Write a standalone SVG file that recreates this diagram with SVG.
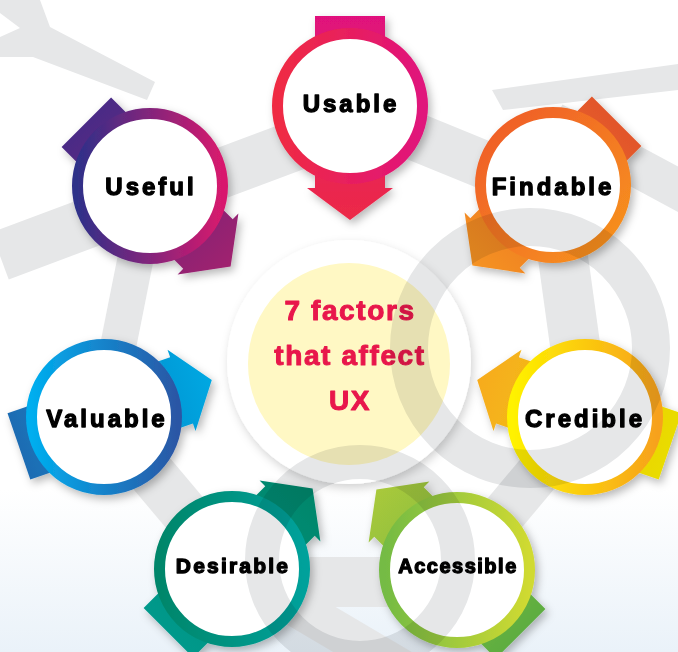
<svg xmlns="http://www.w3.org/2000/svg" width="678" height="652" viewBox="0 0 678 652">
<defs>
<linearGradient id="bg" x1="0" y1="0" x2="0" y2="1"><stop offset="0.75" stop-color="#ffffff"/><stop offset="1" stop-color="#eaf2f9"/></linearGradient>
<filter id="sh" x="-40%" y="-40%" width="180%" height="180%"><feDropShadow dx="3" dy="4" stdDeviation="4" flood-color="#000" flood-opacity="0.28"/></filter>
<filter id="shc" x="-30%" y="-30%" width="160%" height="160%"><feDropShadow dx="2" dy="4" stdDeviation="5" flood-color="#000" flood-opacity="0.18"/></filter>
<linearGradient id="aUsable" x1="0" x2="1"><stop offset="0" stop-color="#e0117c"/><stop offset="1" stop-color="#ec2a47"/></linearGradient>
<linearGradient id="rUsable" x1="0" x2="1"><stop offset="0" stop-color="#ef2b43"/><stop offset="1" stop-color="#e0137c"/></linearGradient>
<linearGradient id="aUseful" x1="0" x2="1"><stop offset="0" stop-color="#4a2b86"/><stop offset="1" stop-color="#a1206e"/></linearGradient>
<linearGradient id="rUseful" x1="0" x2="1"><stop offset="0" stop-color="#2f3089"/><stop offset="1" stop-color="#d8196d"/></linearGradient>
<linearGradient id="aFindable" x1="0" x2="1"><stop offset="0" stop-color="#e2552a"/><stop offset="1" stop-color="#f59321"/></linearGradient>
<linearGradient id="rFindable" x1="0" y1="0" x2="1" y2="1"><stop offset="0" stop-color="#ef5a29"/><stop offset="1" stop-color="#f7941d"/></linearGradient>
<linearGradient id="aValuable" x1="0" x2="1"><stop offset="0" stop-color="#1f6cb3"/><stop offset="1" stop-color="#00a8e2"/></linearGradient>
<linearGradient id="rValuable" x1="0" x2="1"><stop offset="0" stop-color="#00aeef"/><stop offset="1" stop-color="#2b57a5"/></linearGradient>
<linearGradient id="aCredible" x1="0" x2="1"><stop offset="0" stop-color="#e9dc00"/><stop offset="1" stop-color="#f7ab1f"/></linearGradient>
<linearGradient id="rCredible" x1="0" x2="1"><stop offset="0" stop-color="#fff200"/><stop offset="1" stop-color="#f7a11c"/></linearGradient>
<linearGradient id="aDesirable" x1="0" x2="1"><stop offset="0" stop-color="#00998b"/><stop offset="1" stop-color="#00866a"/></linearGradient>
<linearGradient id="rDesirable" x1="0" x2="1"><stop offset="0" stop-color="#00866a"/><stop offset="1" stop-color="#00a19b"/></linearGradient>
<linearGradient id="aAccessible" x1="0" x2="1"><stop offset="0" stop-color="#5dad40"/><stop offset="1" stop-color="#a9c93b"/></linearGradient>
<linearGradient id="rAccessible" x1="0" x2="1"><stop offset="0" stop-color="#74bb44"/><stop offset="1" stop-color="#d0da32"/></linearGradient>
<polygon id="arrow" points="-90,-35 82,-35 82,-43 114,0 82,43 82,35 -90,35"/>
</defs>
<style>
.band{fill:none;stroke:#e6e7e8;stroke-linecap:butt}
.bandp{fill:#e6e7e8}
.over{fill:none;stroke:#e6e7e8;mix-blend-mode:multiply}
.ring{stroke-width:11;fill:#fff}
.lbl{font-family:"Liberation Sans",Arial,sans-serif;font-weight:700;font-size:24px;letter-spacing:3px;text-anchor:middle;fill:#000;stroke:#000;stroke-width:1.3;stroke-linejoin:round}
.ctr{font-family:"Liberation Sans",Arial,sans-serif;font-weight:700;font-size:28px;letter-spacing:1.6px;text-anchor:middle;fill:#e8174b;stroke:#e8174b;stroke-width:1;stroke-linejoin:round}
</style>
<rect width="678" height="652" fill="url(#bg)"/>
<g id="connectors">
<polygon class="bandp" points="0,0 40,0 50,27 155,82 147,100 33,57 0,57 0,37 20,28 0,13"/>
<line class="band" x1="0" y1="256" x2="350" y2="125" stroke-width="50"/>
<line class="band" x1="350" y1="110" x2="553" y2="193" stroke-width="48"/>
<line class="band" x1="553" y1="122" x2="700" y2="201" stroke-width="40"/>
<polygon class="bandp" points="492,90 678,64 678,90 503,110"/>
<line class="band" x1="553" y1="185" x2="585" y2="417" stroke-width="50"/>
<line class="band" x1="585" y1="417" x2="457" y2="570" stroke-width="45"/>
<line class="band" x1="232" y1="582" x2="457" y2="582" stroke-width="50"/>
<line class="band" x1="232" y1="569" x2="430" y2="686" stroke-width="40"/>
<line class="band" x1="104" y1="417" x2="232" y2="569" stroke-width="48"/>
<line class="band" x1="150" y1="186" x2="104" y2="417" stroke-width="36"/>
</g>
<g id="center">
<circle cx="349" cy="362" r="122" fill="#fff" filter="url(#shc)"/>
<circle cx="349" cy="364" r="101" fill="#fff8c4"/>
<text class="ctr" x="350" y="320">7 factors</text>
<text class="ctr" x="350" y="365">that affect</text>
<text class="ctr" x="350" y="410">UX</text>
</g>
<g id="usable" transform="translate(350,106)">
<g filter="url(#sh)"><use href="#arrow" fill="url(#aUsable)" transform="rotate(90)"/><circle class="ring" r="72.5" stroke="url(#rUsable)"/></g>
<text class="lbl" x="1" y="6">Usable</text>
</g>
<g id="useful" transform="translate(150,186)">
<g filter="url(#sh)"><use href="#arrow" fill="url(#aUseful)" transform="rotate(45)"/><circle class="ring" r="72.5" stroke="url(#rUseful)"/></g>
<text class="lbl" x="1" y="9">Useful</text>
</g>
<g id="findable" transform="translate(553,185)">
<g filter="url(#sh)"><use href="#arrow" fill="url(#aFindable)" transform="rotate(135)"/><circle class="ring" r="72.5" stroke="url(#rFindable)"/></g>
<text class="lbl" x="0" y="10">Findable</text>
</g>
<g id="valuable" transform="translate(104,417)">
<g filter="url(#sh)"><use href="#arrow" fill="url(#aValuable)" transform="rotate(-19)"/><circle class="ring" r="72.5" stroke="url(#rValuable)"/></g>
<text class="lbl" x="3" y="10">Valuable</text>
</g>
<g id="credible" transform="translate(585,417)">
<g filter="url(#sh)"><use href="#arrow" fill="url(#aCredible)" transform="rotate(199)"/><circle class="ring" r="72.5" stroke="url(#rCredible)"/></g>
<text class="lbl" x="0" y="10">Credible</text>
</g>
<g id="desirable" transform="translate(232,569)">
<g filter="url(#sh)"><use href="#arrow" fill="url(#aDesirable)" transform="rotate(-45)"/><circle class="ring" r="72.5" stroke="url(#rDesirable)"/></g>
<text class="lbl" x="1" y="4" style="font-size:21px;letter-spacing:2.2px">Desirable</text>
</g>
<g id="accessible" transform="translate(457,570)">
<g filter="url(#sh)"><use href="#arrow" fill="url(#aAccessible)" transform="rotate(-135)"/><circle class="ring" r="72.5" stroke="url(#rAccessible)"/></g>
<text class="lbl" x="1" y="3" style="font-size:20px;letter-spacing:1.5px">Accessible</text>
</g>
<g id="overlays">
<circle class="over" cx="530" cy="348" r="121" stroke-width="38"/>
<circle class="over" cx="360" cy="560" r="98" stroke-width="34"/>
</g>
</svg>
